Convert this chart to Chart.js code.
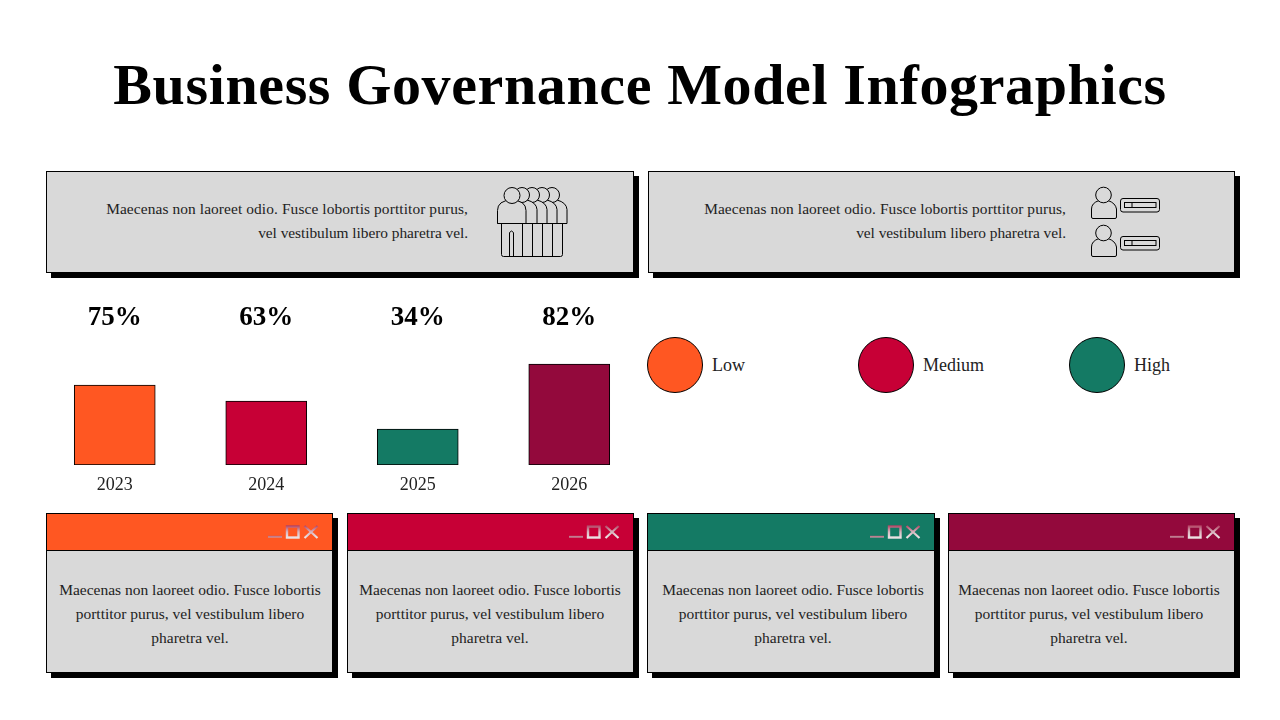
<!DOCTYPE html>
<html>
<head>
<meta charset="utf-8">
<title>Business Governance Model Infographics</title>
<script src="https://cdn.jsdelivr.net/npm/chart.js@4/dist/chart.umd.min.js"></script>
<style>
    html, body { margin: 0; padding: 0; background: #fff; }
    body { position: relative; width: 1280px; height: 720px; overflow: hidden; font-family: "Liberation Serif", serif; color: #222; }
    h1 { position: absolute; left: 0; top: 48px; width: 1280px; margin: 0; text-align: center; font-size: 58px; line-height: 74px; letter-spacing: 0.63px; font-weight: bold; color: #000; white-space: nowrap; }
    .panel { position: absolute; box-sizing: border-box; background: #d9d9d9; border: 1px solid #000; box-shadow: 5px 5px 0 #000; }
    .note { position: absolute; text-align: right; font-size: 15.4px; line-height: 24px; letter-spacing: 0.1px; white-space: nowrap; }
    .note span { letter-spacing: -0.05px; }
    .card-head { position: absolute; left: 0; top: 0; right: 0; height: 36px; border-bottom: 1px solid #000; }
    .card-text { position: absolute; top: 578px; width: 290px; text-align: center; font-size: 15.5px; line-height: 24px; white-space: nowrap; }
    .dot { position: absolute; box-sizing: border-box; top: 337px; width: 56px; height: 56px; border-radius: 50%; border: 1px solid #000; }
    .dot-label { position: absolute; top: 353px; font-size: 18px; line-height: 24px; }
    #barWrap { position: absolute; left: 39px; top: 295px; width: 606px; height: 205px; }
    #icons { position: absolute; left: 0; top: 0; }
    #icons .ln { fill: none; stroke: #000; stroke-width: 1; }
    #icons .solid { fill: #d9d9d9; stroke: #000; stroke-width: 1; }
</style>
</head>
<body>
<h1>Business Governance Model Infographics</h1>

<div class="panel" style="left:46px;top:171px;width:588px;height:102px"></div>
<div class="panel" style="left:648px;top:171px;width:587px;height:102px"></div>
<div class="note" style="right:812px;top:197px">Maecenas non laoreet odio. Fusce lobortis porttitor purus,<br><span>vel vestibulum libero pharetra vel.</span></div>
<div class="note" style="right:214px;top:197px">Maecenas non laoreet odio. Fusce lobortis porttitor purus,<br><span>vel vestibulum libero pharetra vel.</span></div>

<div id="barWrap"><canvas id="barChart"></canvas></div>
<div id="legendRow"></div>
<div id="cards"></div>
<svg id="icons" width="1280" height="720"></svg>

<script>
const years = ['2023', '2024', '2025', '2026'];
const percentLabels = ['75%', '63%', '34%', '82%'];
// heights as drawn in the picture, the bars are not quite in step with their % labels
const barHeights = [80, 64, 36, 101];
const barColors = ['#ff5722', '#c70036', '#147a64', '#93093c'];

const legendLabels = ['Low', 'Medium', 'High'];
const legendColors = ['#ff5722', '#c70036', '#147a64'];
const legendLefts = [647, 858, 1069];

const cardLefts = [46, 347, 647, 948];
const cardWidths = [287, 287, 288, 287];
const cardTextCenters = [190, 490, 793, 1089];
const cardText = 'Maecenas non laoreet odio. Fusce lobortis<br>porttitor purus, vel vestibulum libero<br>pharetra vel.';

// legend row
const legendRow = document.getElementById('legendRow');
legendLabels.forEach((label, i) => {
    legendRow.insertAdjacentHTML('beforeend',
        `<div class="dot" style="left:${legendLefts[i]}px;background:${legendColors[i]}"></div>` +
        `<div class="dot-label" style="left:${legendLefts[i] + 65}px">${label}</div>`);
});

// bottom cards
const cards = document.getElementById('cards');
cardLefts.forEach((left, i) => {
    cards.insertAdjacentHTML('beforeend',
        `<div class="panel" style="left:${left}px;top:513px;width:${cardWidths[i]}px;height:160px">` +
        `<div class="card-head" style="background:${barColors[i]}"></div></div>` +
        `<div class="card-text" style="left:${cardTextCenters[i] - 145}px">${cardText}</div>`);
});

// icons
function userIcon(y) {
    return `<path class="solid" d="M1091.5 ${y + 37} v-8 q0 -6 7.5 -8.5 q4.5 3 9 0 q7.5 2.5 8.5 8.5 v8 q0 1.5 -1.5 1.5 h-22 q-1.5 0 -1.5 -1.5 z"/>` +
        `<circle class="solid" cx="1103.5" cy="${y + 15}" r="7.8"/>` +
        `<rect class="ln" x="1120.5" y="${y + 18.5}" width="39" height="13.5" rx="2.5"/>` +
        `<rect class="ln" x="1124.5" y="${y + 22.5}" width="31.5" height="5"/>` +
        `<line class="ln" x1="1132" y1="${y + 22.5}" x2="1132" y2="${y + 27.5}"/>`;
}

function peopleIcon() {
    let out = '';
    [552, 542, 532, 522].forEach(x => {
        out += `<path class="solid" d="M${x - 10} 223.5 v-18 q3 -6 ${10 + 5} -5.5 q9.5 2.5 10 9.5 v14 z"/>`;
        out += `<circle class="solid" cx="${x}" cy="195" r="7.5"/>`;
    });
    out += `<path class="solid" d="M497.5 223.5 v-13 q0 -10 14 -10.5 q14.5 0.5 14.5 10.5 v13 z"/>`;
    out += `<circle class="solid" cx="512" cy="195.5" r="8"/>`;
    out += `<path class="ln" d="M497.5 223.5 h69.5 M501.5 223.5 v31 q0 2 2 2 h57 q2 0 2 -2 v-31"/>`;
    [522.5, 532.5, 542.5, 552.5].forEach(x => {
        out += `<line class="ln" x1="${x}" y1="223.5" x2="${x}" y2="256.5"/>`;
    });
    out += `<path class="ln" d="M509.5 256.5 v-24 q2 -3 4 0 v24"/>`;
    return out;
}

function windowButtons(right) {
    return `<line x1="${right - 65}" y1="536.7" x2="${right - 51}" y2="536.7" stroke="url(#btnLine)" stroke-width="1.8"/>` +
        `<rect x="${right - 46}" y="526.5" width="11.5" height="11" fill="none" stroke="url(#btnFade)" stroke-width="2.4"/>` +
        `<path d="M${right - 28.5} 526 l13 12 M${right - 15.5} 526 l-13 12" fill="none" stroke="url(#btnFade)" stroke-width="2.2"/>`;
}

let iconMarkup = `<defs>
    <linearGradient id="btnFade" gradientUnits="userSpaceOnUse" x1="0" y1="525" x2="0" y2="539"><stop offset="0" stop-color="#b03a5c"/><stop offset="0.5" stop-color="#d8b8c0"/><stop offset="1" stop-color="#f0ecec"/></linearGradient>
    <linearGradient id="btnLine" gradientUnits="userSpaceOnUse" x1="0" y1="535.5" x2="0" y2="538"><stop offset="0" stop-color="#b56078"/><stop offset="1" stop-color="#cfa8b2"/></linearGradient>
</defs>`;
iconMarkup += peopleIcon() + userIcon(180) + userIcon(218);
cardLefts.forEach((left, i) => { iconMarkup += windowButtons(left + cardWidths[i]); });
document.getElementById('icons').innerHTML = iconMarkup;

// bars, top axis carries the % labels and bottom axis the years
function fixedHeight(h) {
    return axis => { axis.height = h; };
}

new Chart(document.getElementById('barChart'), {
    type: 'bar',
    data: {
        labels: years,
        datasets: [{
            data: barHeights,
            backgroundColor: barColors,
            borderColor: '#000',
            borderWidth: 1,
            barThickness: 81,
            borderSkipped: false
        }]
    },
    options: {
        responsive: true,
        maintainAspectRatio: false,
        animation: false,
        layout: { padding: 0 },
        plugins: { legend: { display: false }, tooltip: { enabled: false } },
        scales: {
            x: {
                position: 'bottom',
                grid: { display: false, drawTicks: false },
                border: { display: false },
                afterFit: fixedHeight(35),
                ticks: { color: '#222', padding: 9, maxRotation: 0, font: { family: 'Liberation Serif', size: 18 } }
            },
            xTop: {
                type: 'category',
                position: 'top',
                labels: percentLabels,
                grid: { display: false, drawTicks: false },
                border: { display: false },
                afterFit: fixedHeight(55),
                ticks: { color: '#000', padding: 16, maxRotation: 0, font: { family: 'Liberation Serif', size: 27, weight: 'bold' } }
            },
            y: {
                display: false,
                min: 0,
                max: 115
            }
        }
    }
});
</script>
</body>
</html>
